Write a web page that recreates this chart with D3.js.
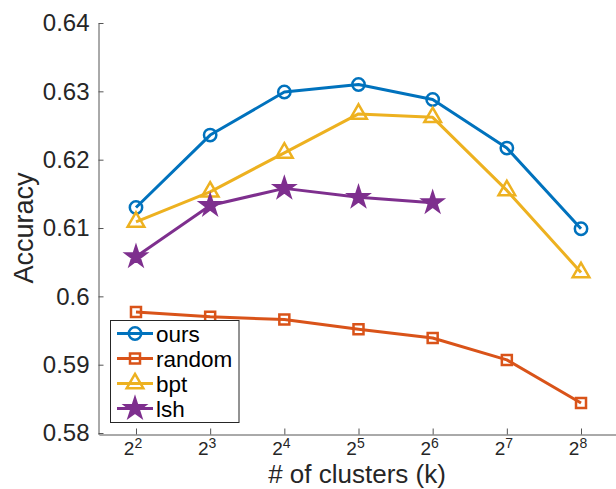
<!DOCTYPE html>
<html>
<head>
<meta charset="utf-8">
<script src="https://cdn.jsdelivr.net/npm/d3@7"></script>
<style>
  body { margin: 0; background: #fff; }
  svg { display: block; font-family: "Liberation Sans", Arial, Helvetica, sans-serif; }
</style>
</head>
<body>
<svg id="chart" width="616" height="489"></svg>
<script>
// exponents of k (2^2 ... 2^8)
const exponents = [2, 3, 4, 5, 6, 7, 8];

const oursValues = [0.6130, 0.6236, 0.6299, 0.6310, 0.6288, 0.6217, 0.6099];
const randomValues = [0.5977, 0.5970, 0.5966, 0.5952, 0.5939, 0.5907, 0.5844];
const bptValues = [0.6109, 0.6153, 0.6210, 0.6267, 0.6262, 0.6155, 0.6035];
const lshValues = [0.6058, 0.6133, 0.6158, 0.6145, 0.6137];

const yTicks = [0.58, 0.59, 0.6, 0.61, 0.62, 0.63, 0.64];
const yTickLabels = ['0.58', '0.59', '0.6', '0.61', '0.62', '0.63', '0.64'];

const seriesNames = ['ours', 'random', 'bpt', 'lsh'];

const svg = d3.select('#chart');

const x = d3.scaleLinear().domain([1.5, 8.5]).range([98.9, 618.1]);
const y = d3.scaleLinear().domain([0.5798, 0.64]).range([434.4, 23]);

const axisColor = '#555';
const textColor = '#262626';

//
// Y AXIS
//
const yAxis = svg
  .append('g')
  .attr('transform', 'translate(98.5,0)')
  .call(
    d3
      .axisLeft(y)
      .tickValues(yTicks)
      .tickSizeInner(-5)
      .tickSizeOuter(0)
      .tickPadding(9)
      .tickFormat((d, i) => yTickLabels[i]),
  );
yAxis.select('.domain').attr('stroke', axisColor);
yAxis.selectAll('.tick line').attr('stroke', axisColor);
yAxis
  .selectAll('.tick text')
  .attr('fill', textColor)
  .attr('font-size', 24)
  .attr('font-family', '"Liberation Sans", Arial, sans-serif');

//
// X AXIS
//
const xAxis = svg
  .append('g')
  .attr('transform', 'translate(0,434.5)')
  .call(
    d3
      .axisBottom(x)
      .tickValues(exponents)
      .tickSizeInner(-6)
      .tickSizeOuter(0)
      .tickFormat(() => ''),
  );
xAxis.select('.domain').attr('stroke', axisColor);
xAxis.selectAll('.tick line').attr('stroke', axisColor);

const xLabels = svg
  .append('g')
  .selectAll('text')
  .data(exponents)
  .join('text')
  .attr('x', (d) => x(d) - 3)
  .attr('y', 455)
  .attr('text-anchor', 'middle')
  .attr('fill', textColor)
  .attr('font-size', 19);
xLabels.append('tspan').text('2');
xLabels
  .append('tspan')
  .attr('dy', -7)
  .attr('font-size', 14)
  .text((d) => d);

//
// AXIS TITLES
//
svg
  .append('text')
  .attr('x', 357)
  .attr('y', 483)
  .attr('text-anchor', 'middle')
  .attr('fill', textColor)
  .attr('font-size', 26)
  .text('# of clusters (k)');

svg
  .append('text')
  .attr('transform', 'translate(33,228) rotate(-90)')
  .attr('text-anchor', 'middle')
  .attr('fill', textColor)
  .attr('font-size', 27)
  .text('Accuracy');

//
// SERIES
//
const series = [
  { name: seriesNames[0], values: oursValues, color: '#0072BD', symbol: d3.symbolCircle, size: 120, filled: false },
  { name: seriesNames[1], values: randomValues, color: '#D95319', symbol: d3.symbolSquare, size: 100, filled: false },
  { name: seriesNames[2], values: bptValues, color: '#EDB120', symbol: d3.symbolTriangle, size: 120, filled: false },
  { name: seriesNames[3], values: lshValues, color: '#7E2F8E', symbol: d3.symbolStar, size: 115, filled: true },
];

const line = d3
  .line()
  .x((d, i) => x(exponents[i]))
  .y((d) => y(d));

series.forEach((s) => {
  svg
    .append('path')
    .datum(s.values)
    .attr('fill', 'none')
    .attr('stroke', s.color)
    .attr('stroke-width', 3)
    .attr('stroke-linejoin', 'round')
    .attr('d', line);

  svg
    .append('g')
    .selectAll('path')
    .data(s.values)
    .join('path')
    .attr('transform', (d, i) => `translate(${x(exponents[i])},${y(d)})`)
    .attr('d', d3.symbol(s.symbol, s.size))
    .attr('fill', s.filled ? s.color : 'none')
    .attr('stroke', s.color)
    .attr('stroke-width', 2.5);
});

//
// LEGEND
//
const legend = svg.append('g');
legend
  .append('rect')
  .attr('x', 110.5)
  .attr('y', 320.5)
  .attr('width', 128.5)
  .attr('height', 102)
  .attr('fill', '#fff')
  .attr('stroke', '#262626')
  .attr('stroke-width', 1);

const rows = legend
  .selectAll('g.row')
  .data(series)
  .join('g')
  .attr('class', 'row')
  .attr('transform', (d, i) => `translate(0,${333.5 + i * 25})`);

rows
  .append('line')
  .attr('x1', 117)
  .attr('x2', 153)
  .attr('stroke', (d) => d.color)
  .attr('stroke-width', 3);

rows
  .append('path')
  .attr('transform', 'translate(135,0)')
  .attr('d', (d) => d3.symbol(d.symbol, d.size)())
  .attr('fill', (d) => (d.filled ? d.color : 'none'))
  .attr('stroke', (d) => d.color)
  .attr('stroke-width', 2.5);

rows
  .append('text')
  .attr('x', 156)
  .attr('y', 8)
  .attr('fill', '#000')
  .attr('font-size', 22.5)
  .text((d) => d.name);
</script>
</body>
</html>
